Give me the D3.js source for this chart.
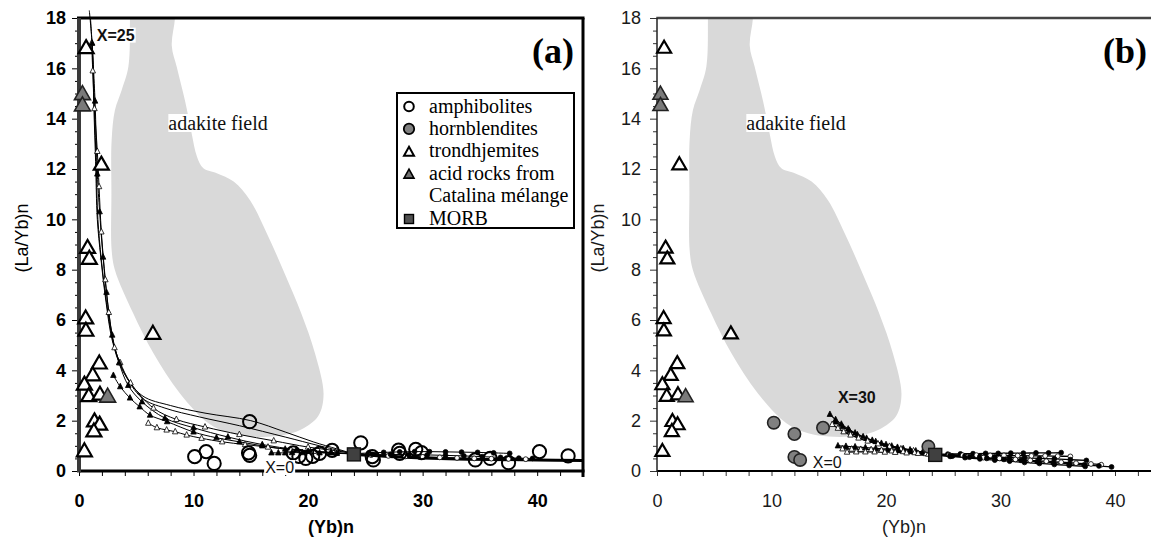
<!DOCTYPE html>
<html>
<head>
<meta charset="utf-8">
<script src="https://cdn.jsdelivr.net/npm/d3@7"></script>
<style>
  body { margin: 0; background: #fff; }
  svg { display: block; }
</style>
</head>
<body>
<svg id="chart" width="1151" height="538"></svg>
<script>
// ---------- data ----------
const yTickValues = [0, 2, 4, 6, 8, 10, 12, 14, 16, 18];
const xLabelTicks = [0, 10, 20, 30, 40];

// outline of the adakite field, (Yb)n vs (La/Yb)n
const adakiteField = [
  [4.45, 19], [4.45, 18], [4.31, 16.06], [3.73, 15.14], [3.14, 14.34], [2.85, 13.15],
  [2.83, 11.0], [2.85, 8.78], [3.14, 7.98], [4.74, 6.26], [6.5, 4.68], [8.8, 3.09],
  [11.3, 1.9], [13.2, 1.5], [15.0, 1.37], [17.5, 1.4], [19.4, 1.65], [20.9, 2.2],
  [21.35, 3.05], [20.6, 4.68], [19.4, 6.27], [18.0, 7.8], [16.4, 9.44], [14.93, 10.76],
  [13.5, 11.5], [12.03, 11.83], [10.86, 12.03], [10.3, 12.49], [9.84, 13.4], [9.26, 14.7],
  [8.53, 16.06], [8.1, 16.9], [8.38, 18], [8.4, 19]
];

const trondhjemites = [
  [0.62, 16.8], [1.95, 12.17], [0.75, 8.86], [0.9, 8.43], [0.58, 6.06], [0.6, 5.57],
  [6.45, 5.45], [1.77, 4.27], [1.2, 3.8], [0.47, 3.43], [0.85, 2.97], [1.83, 3.03],
  [1.35, 1.97], [1.8, 1.84], [1.3, 1.57], [0.47, 0.78]
];
const acidRocks = [[0.3, 14.97], [0.3, 14.52], [2.5, 2.95]];
const amphibolites = [
  [14.9, 1.96], [10.1, 0.57], [11.1, 0.77], [11.8, 0.3], [14.8, 0.72], [14.9, 0.62],
  [18.7, 0.72], [19.2, 0.58], [19.8, 0.5], [20.4, 0.58], [21.0, 0.7], [22.1, 0.82],
  [24.6, 1.12], [25.6, 0.57], [25.7, 0.44], [27.9, 0.83], [28.0, 0.7], [29.4, 0.86],
  [29.9, 0.73], [34.6, 0.44], [35.9, 0.5], [37.5, 0.33], [40.2, 0.77], [42.7, 0.6]
];
const hornblendites = [[10.2, 1.92], [12.0, 1.47], [12.0, 0.56], [12.5, 0.44], [14.5, 1.72], [23.7, 0.97]];
const morbA = [[24.0, 0.66]];
const morbB = [[24.3, 0.64]];

// melting / mixing trajectories, panel (a)
const curvesA = [
  { mark: "none", w: 1, pts: [[0.9, 18.3], [1.15, 16.9], [1.3, 14.4], [1.45, 12.3], [1.6, 10.0], [1.9, 8.5], [2.35, 6.75], [2.9, 5.2], [3.8, 4.0], [5.5, 3.0], [8, 2.6], [11, 2.3], [15, 2.0], [18, 1.55], [20.5, 1.15], [22.5, 0.88], [24, 0.68]] },
  { mark: "none", w: 1, pts: [[1.0, 18.0], [1.2, 16.5], [1.35, 14.3], [1.5, 12.2], [1.65, 10.0], [1.95, 8.4], [2.4, 6.7], [3.0, 5.1], [3.9, 3.95], [5.5, 2.9], [7.5, 2.5], [10.5, 2.15], [14, 1.8], [18, 1.35], [21, 1.0], [24, 0.68]] },
  { mark: "triO", w: 1, pts: [[1.1, 17.0], [1.2, 15.9], [1.35, 14.4], [1.6, 12.7], [1.75, 11.3], [1.95, 9.5], [2.3, 7.6], [2.6, 6.3], [3.1, 4.9], [3.6, 4.3], [4.5, 3.5], [6.5, 2.5], [8.5, 2.05], [11, 1.75], [14, 1.45], [17, 1.2], [20, 0.95], [22.5, 0.8], [24, 0.68]] },
  { mark: "triF", w: 1, pts: [[1.15, 17.0], [1.4, 14.7], [1.6, 11.8], [1.8, 10.3], [2.1, 8.5], [2.4, 7.1], [2.9, 5.4], [3.5, 4.3], [4.3, 3.4], [5.5, 2.75], [7.5, 2.1], [10, 1.72], [13, 1.35], [16, 1.05], [19, 0.85], [22, 0.74], [24, 0.68]] },
  { mark: "triF", w: 1, pts: [[3.0, 3.8], [3.6, 3.35], [4.45, 2.9], [5.3, 2.55], [6.2, 2.22], [7.7, 1.96], [10, 1.55], [12, 1.32], [14, 1.16], [16, 1.0], [18, 0.87], [20, 0.78], [22, 0.72], [24, 0.68]] },
  { mark: "triO", w: 1, pts: [[6.05, 1.9], [6.8, 1.72], [7.65, 1.63], [8.4, 1.56], [9.4, 1.43], [10.7, 1.3], [12.5, 1.16], [14.5, 1.05], [16.5, 0.95], [18.5, 0.85], [20.5, 0.78], [22.5, 0.72], [24, 0.68]] },
  { mark: "triF", w: 1, pts: [[16.8, 0.72], [17.4, 0.72], [18.0, 0.72], [18.6, 0.73], [19.5, 0.73], [21, 0.72], [22.5, 0.7], [24, 0.68]] },
  { mark: "dotF", w: 1, pts: [[24, 0.68], [25.3, 0.72], [26.6, 0.74], [28, 0.76], [29.3, 0.77], [30.6, 0.77], [32, 0.76], [33.4, 0.75], [34.8, 0.74], [36.2, 0.72], [37.6, 0.7]] },
  { mark: "dotO", w: 1, pts: [[24, 0.66], [25.5, 0.63], [27, 0.6], [28.5, 0.58], [30, 0.56], [31.5, 0.54], [33, 0.52], [34.5, 0.5], [36, 0.49], [37.5, 0.48], [39, 0.47]] },
  { mark: "dotF", w: 1, pts: [[24, 0.66], [25.6, 0.66], [27.2, 0.66], [28.8, 0.65], [30.4, 0.64], [32, 0.62], [33.6, 0.6], [35.2, 0.57], [36.8, 0.54], [38.4, 0.51], [39.6, 0.5]] },
  { mark: "none", w: 3, pts: [[24, 0.66], [27, 0.58], [30, 0.52], [33, 0.48], [36, 0.46], [40, 0.44], [44, 0.42]] }
];

// melting / mixing trajectories, panel (b)
const curvesB = [
  { mark: "triF", w: 1.3, pts: [[15.1, 2.25], [15.6, 2.04], [16.1, 1.86], [16.7, 1.67], [17.3, 1.51], [18.0, 1.36], [18.8, 1.22], [19.6, 1.1], [20.5, 0.99], [21.5, 0.89], [22.6, 0.8], [23.6, 0.72], [24.3, 0.66]] },
  { mark: "triF", w: 1.3, pts: [[15.6, 1.95], [16.2, 1.76], [16.8, 1.6], [17.5, 1.44], [18.3, 1.3], [19.1, 1.17], [20.0, 1.05], [21.0, 0.94], [22.1, 0.84], [23.2, 0.75], [24.3, 0.66]] },
  { mark: "triO", w: 1.3, pts: [[15.3, 1.85], [15.8, 1.7], [16.3, 1.56], [16.9, 1.43], [17.6, 1.31], [18.4, 1.19], [19.3, 1.08], [20.3, 0.98], [21.3, 0.88], [22.4, 0.8], [23.4, 0.72], [24.3, 0.66]] },
  { mark: "triF", w: 1.3, pts: [[15.8, 1.0], [16.5, 0.98], [17.3, 0.96], [18.2, 0.93], [19.1, 0.9], [20.1, 0.86], [21.1, 0.82], [22.2, 0.77], [23.3, 0.71], [24.3, 0.66]] },
  { mark: "triO", w: 1.3, pts: [[16.2, 0.88], [17.0, 0.87], [17.8, 0.86], [18.7, 0.85], [19.6, 0.83], [20.5, 0.8], [21.5, 0.77], [22.5, 0.73], [23.5, 0.69], [24.3, 0.66]] },
  { mark: "triO", w: 1.3, pts: [[16.6, 0.75], [17.4, 0.76], [18.2, 0.76], [19.0, 0.76], [19.9, 0.75], [20.8, 0.74], [21.8, 0.72], [22.8, 0.7], [23.7, 0.67], [24.3, 0.65]] },
  { mark: "dotF", w: 1.3, pts: [[24.3, 0.66], [25.4, 0.67], [26.5, 0.68], [27.6, 0.69], [28.7, 0.7], [29.8, 0.7], [30.9, 0.71], [32.0, 0.71], [33.1, 0.72], [34.2, 0.72], [35.3, 0.73]] },
  { mark: "dotO", w: 1.3, pts: [[24.3, 0.64], [25.5, 0.64], [26.7, 0.63], [27.9, 0.63], [29.1, 0.62], [30.3, 0.62], [31.5, 0.61], [32.7, 0.6], [33.9, 0.6], [35.0, 0.59], [36.1, 0.58]] },
  { mark: "dotF", w: 1.3, pts: [[24.3, 0.64], [25.6, 0.62], [26.9, 0.6], [28.2, 0.58], [29.5, 0.56], [30.8, 0.54], [32.1, 0.52], [33.4, 0.5], [34.7, 0.48], [36.1, 0.45], [37.5, 0.42]] },
  { mark: "dotO", w: 1.3, pts: [[24.3, 0.64], [25.7, 0.6], [27.1, 0.57], [28.5, 0.53], [29.9, 0.5], [31.3, 0.46], [32.6, 0.42], [34.0, 0.39], [35.3, 0.35], [36.6, 0.31], [37.9, 0.28], [38.8, 0.25]] },
  { mark: "dotF", w: 1.3, pts: [[24.3, 0.64], [25.8, 0.59], [27.3, 0.55], [28.8, 0.5], [30.3, 0.46], [31.8, 0.42], [33.2, 0.37], [34.6, 0.33], [36.0, 0.28], [37.3, 0.24], [38.6, 0.2], [39.7, 0.16]] },
  { mark: "dotF", w: 1.3, pts: [[24.3, 0.64], [25.6, 0.58], [26.9, 0.53], [28.2, 0.48], [29.5, 0.43], [30.8, 0.39], [32.1, 0.34], [33.4, 0.3], [34.7, 0.26], [36.0, 0.22], [37.4, 0.18]] }
];

const legendItems = [
  { sym: "circO", text: "amphibolites" },
  { sym: "circG", text: "hornblendites" },
  { sym: "triO", text: "trondhjemites" },
  { sym: "triG", text: "acid rocks from" },
  { sym: null, text: "Catalina mélange" },
  { sym: "sqG", text: "MORB" }
];

// ---------- drawing ----------
const svg = d3.select("#chart");
const GREY_FIELD = "#d9d9d9";

function triPath(w, h) {
  return `M0,${-h * 0.62}L${w / 2},${h * 0.38}L${-w / 2},${h * 0.38}Z`;
}

function drawPanel(cfg) {
  const x = d3.scaleLinear().domain([0, cfg.xMax]).range([cfg.left, cfg.right]);
  const y = d3.scaleLinear().domain([0, 18]).range([471, 18]);
  const g = svg.append("g");

  const clipId = "clip-" + cfg.id;
  svg.append("clipPath").attr("id", clipId)
    .append("rect").attr("x", x(0)).attr("y", y(18)).attr("width", x(cfg.xMax) - x(0)).attr("height", y(0) - y(18));

  // adakite field
  g.append("path")
    .attr("clip-path", `url(#${clipId})`)
    .attr("d", d3.line().x(d => x(d[0])).y(d => y(d[1])).curve(d3.curveCatmullRomClosed.alpha(0.5))(adakiteField))
    .attr("fill", GREY_FIELD);

  // field label on white
  const fl = g.append("g");
  const ft = fl.append("text")
    .attr("x", x(7.8)).attr("y", y(13.55))
    .attr("font-family", "Liberation Serif, Times New Roman, serif")
    .attr("font-size", 20).attr("fill", "#111")
    .text("adakite field");
  const bb = ft.node().getBBox();
  fl.insert("rect", "text").attr("x", bb.x).attr("y", bb.y + 2).attr("width", bb.width).attr("height", bb.height - 4).attr("fill", "#fff");

  // axes
  const tickFont = cfg.bold ? "bold" : "normal";
  const yMinor = d3.range(0, 18.01, 0.5).filter(v => v % 2 !== 0);
  g.append("g").attr("transform", `translate(${x(0)},0)`)
    .call(d3.axisLeft(y).tickValues(yMinor).tickSize(4).tickFormat(""))
    .call(a => a.select(".domain").remove())
    .call(a => a.selectAll("line").attr("stroke", cfg.tickColor).attr("stroke-width", 1));
  g.append("g").attr("transform", `translate(${x(0)},0)`)
    .call(d3.axisLeft(y).tickValues(yTickValues).tickSize(7).tickPadding(cfg.yPad))
    .call(a => a.select(".domain").remove())
    .call(a => a.selectAll("line").attr("stroke", cfg.tickColor).attr("stroke-width", 1))
    .call(a => a.selectAll("text").attr("font-family", "Liberation Sans, Arial, sans-serif")
      .attr("font-size", 18).attr("font-weight", tickFont).attr("fill", cfg.textColor));

  const xTicks = d3.range(0, cfg.xMax + 0.01, 2);
  g.append("g").attr("transform", `translate(0,${y(0)})`)
    .call(d3.axisBottom(x).tickValues(xTicks).tickSize(5).tickPadding(18)
      .tickFormat(d => xLabelTicks.includes(d) ? d : ""))
    .call(a => a.select(".domain").remove())
    .call(a => a.selectAll("line").attr("stroke", cfg.tickColor).attr("stroke-width", 1))
    .call(a => a.selectAll("text").attr("font-family", "Liberation Sans, Arial, sans-serif")
      .attr("font-size", 18).attr("font-weight", tickFont).attr("fill", cfg.textColor));

  // frame
  g.append("line").attr("x1", x(0)).attr("x2", cfg.right + (cfg.rightBorder ? 1.5 : 0))
    .attr("y1", y(0)).attr("y2", y(0)).attr("stroke", "#000").attr("stroke-width", cfg.bottomW);
  g.append("line").attr("x1", x(0) - cfg.leftW / 2).attr("x2", cfg.right + (cfg.rightBorder ? 1.5 : 0))
    .attr("y1", y(18)).attr("y2", y(18)).attr("stroke", cfg.topColor).attr("stroke-width", cfg.topW);
  g.append("line").attr("x1", x(0)).attr("x2", x(0))
    .attr("y1", y(18)).attr("y2", y(0) + cfg.bottomW / 2).attr("stroke", cfg.leftColor).attr("stroke-width", cfg.leftW);
  if (cfg.rightBorder) {
    g.append("line").attr("x1", cfg.right).attr("x2", cfg.right)
      .attr("y1", y(18)).attr("y2", y(0) + 6).attr("stroke", "#000").attr("stroke-width", 3);
  }

  // axis titles
  g.append("text")
    .attr("transform", `translate(${cfg.yTitleX},${238}) rotate(-90)`)
    .attr("text-anchor", "middle")
    .attr("font-family", "Liberation Sans, Arial, sans-serif").attr("font-size", 18)
    .attr("fill", cfg.textColor)
    .text("(La/Yb)n");
  g.append("text")
    .attr("x", (x(0) + Math.min(cfg.right, 1151)) / 2).attr("y", 533)
    .attr("text-anchor", "middle")
    .attr("font-family", "Liberation Sans, Arial, sans-serif").attr("font-size", 18)
    .attr("font-weight", tickFont).attr("fill", cfg.textColor)
    .text("(Yb)n");

  // trajectories
  const lineGen = d3.line().x(d => x(d[0])).y(d => y(d[1])).curve(d3.curveCatmullRom.alpha(0.5));
  cfg.curves.forEach(c => {
    g.append("path").attr("d", lineGen(c.pts)).attr("fill", "none")
      .attr("stroke", "#000").attr("stroke-width", c.w);
  });
  cfg.curves.forEach(c => {
    if (c.mark === "none") return;
    const mg = g.append("g");
    c.pts.forEach(p => {
      if (c.mark === "triF" || c.mark === "triO") {
        mg.append("path").attr("d", triPath(5.5, 5.5))
          .attr("transform", `translate(${x(p[0])},${y(p[1])})`)
          .attr("fill", c.mark === "triF" ? "#000" : "#fff")
          .attr("stroke", "#000").attr("stroke-width", 0.8);
      } else {
        mg.append("circle").attr("cx", x(p[0])).attr("cy", y(p[1])).attr("r", 2.4)
          .attr("fill", c.mark === "dotF" ? "#000" : "#fff")
          .attr("stroke", "#000").attr("stroke-width", 0.8);
      }
    });
  });

  // samples
  if (cfg.amph) {
    g.append("g").selectAll("circle").data(amphibolites).join("circle")
      .attr("cx", d => x(d[0])).attr("cy", d => y(d[1])).attr("r", 6.6)
      .attr("fill", "none").attr("stroke", "#000").attr("stroke-width", 2);
  }
  if (cfg.horn) {
    g.append("g").selectAll("circle").data(hornblendites).join("circle")
      .attr("cx", d => x(d[0])).attr("cy", d => y(d[1])).attr("r", 6.2)
      .attr("fill", "#808080").attr("stroke", "#222").attr("stroke-width", 1.6);
  }
  g.append("g").selectAll("path").data(trondhjemites).join("path")
    .attr("d", triPath(cfg.triW, cfg.triH))
    .attr("transform", d => `translate(${x(d[0])},${y(d[1])})`)
    .attr("fill", "#fff").attr("stroke", "#000").attr("stroke-width", 2.2).attr("stroke-linejoin", "miter");
  g.append("g").selectAll("path").data(acidRocks).join("path")
    .attr("d", triPath(cfg.triW + 1, cfg.triH + 1))
    .attr("transform", d => `translate(${x(d[0])},${y(d[1])})`)
    .attr("fill", "#7a7a7a").attr("stroke", "#222").attr("stroke-width", 1.6);
  g.append("g").selectAll("rect").data(cfg.morb).join("rect")
    .attr("x", d => x(d[0]) - 6.5).attr("y", d => y(d[1]) - 6.5)
    .attr("width", 13).attr("height", 13)
    .attr("fill", "#404040").attr("stroke", "#111").attr("stroke-width", 1.4);

  // degree-of-melting labels
  cfg.labels.forEach(l => {
    const lg = g.append("g");
    const t = lg.append("text").attr("x", x(l.x)).attr("y", y(l.y))
      .attr("font-family", "Liberation Sans, Arial, sans-serif").attr("font-size", 16)
      .attr("font-weight", l.bold ? "bold" : "normal").attr("fill", "#111").text(l.text);
    if (l.bg) {
      const b = t.node().getBBox();
      lg.insert("rect", "text").attr("x", b.x - 1).attr("y", b.y + 1).attr("width", b.width + 2).attr("height", b.height - 2).attr("fill", l.bg);
    }
  });

  // panel tag
  g.append("text").attr("x", cfg.tagX).attr("y", 63).attr("text-anchor", "end")
    .attr("font-family", "Liberation Serif, Times New Roman, serif").attr("font-size", 36)
    .attr("font-weight", "bold").attr("fill", "#000").text(cfg.tag);

  return { x, y, g };
}

// panel (a)
const pa = drawPanel({
  id: "a", xMax: 44, left: 79, right: 583, bold: true,
  tickColor: "#000", textColor: "#000", yPad: 6, yTitleX: 28,
  topW: 3, topColor: "#000", leftW: 4, leftColor: "#3a3a3a", bottomW: 3, rightBorder: true,
  curves: curvesA, amph: true, horn: false, morb: morbA, triW: 15, triH: 13,
  labels: [
    { text: "X=25", x: 1.55, y: 17.1, bold: true, bg: "#fff" },
    { text: "X=0", x: 16.25, y: -0.08, bold: false, bg: "#fff" }
  ],
  tag: "(a)", tagX: 574
});

// legend for panel (a)
(function () {
  const lg = svg.append("g");
  lg.append("rect").attr("x", 397).attr("y", 93).attr("width", 177).attr("height", 135)
    .attr("fill", "#fff").attr("stroke", "#000").attr("stroke-width", 2);
  legendItems.forEach((it, i) => {
    const cy = 106.5 + i * 22.4;
    lg.append("text").attr("x", 429).attr("y", cy + 6)
      .attr("font-family", "Liberation Serif, Times New Roman, serif").attr("font-size", 20)
      .attr("fill", "#000").text(it.text);
    const sx = 409;
    if (it.sym === "circO") lg.append("circle").attr("cx", sx).attr("cy", cy).attr("r", 4.8).attr("fill", "#fff").attr("stroke", "#000").attr("stroke-width", 2);
    if (it.sym === "circG") lg.append("circle").attr("cx", sx).attr("cy", cy).attr("r", 5.2).attr("fill", "#808080").attr("stroke", "#000").attr("stroke-width", 1.8);
    if (it.sym === "triO") lg.append("path").attr("d", triPath(10, 9)).attr("transform", `translate(${sx},${cy + 1})`).attr("fill", "#fff").attr("stroke", "#000").attr("stroke-width", 2);
    if (it.sym === "triG") lg.append("path").attr("d", triPath(10, 9)).attr("transform", `translate(${sx},${cy + 1})`).attr("fill", "#707070").attr("stroke", "#000").attr("stroke-width", 1.6);
    if (it.sym === "sqG") lg.append("rect").attr("x", sx - 4.5).attr("y", cy - 4).attr("width", 9).attr("height", 9).attr("fill", "#505050").attr("stroke", "#000").attr("stroke-width", 1.4);
  });
})();

// panel (b)
drawPanel({
  id: "b", xMax: 43.5, left: 657, right: 657 + 43.5 * 11.45, bold: false,
  tickColor: "#333", textColor: "#1a1a1a", yPad: 9, yTitleX: 604,
  topW: 2.5, topColor: "#444", leftW: 1.5, leftColor: "#222", bottomW: 2, rightBorder: false,
  curves: curvesB, amph: false, horn: true, morb: morbB, triW: 14, triH: 12,
  labels: [
    { text: "X=30", x: 15.8, y: 2.7, bold: true, bg: null },
    { text: "X=0", x: 13.6, y: 0.12, bold: false, bg: "#fff" }
  ],
  tag: "(b)", tagX: 1147
});
</script>
</body>
</html>
